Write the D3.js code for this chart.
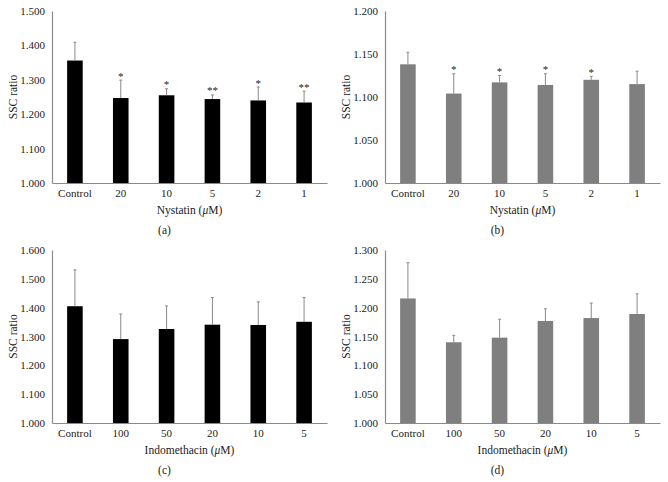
<!DOCTYPE html>
<html>
<head>
<meta charset="utf-8">
<script src="https://cdn.jsdelivr.net/npm/d3@7"></script>
<style>
  html, body { margin: 0; padding: 0; background: #fff; }
  svg { display: block; }
  text { font-family: "Liberation Serif", "Times New Roman", serif; fill: #222; }
</style>
</head>
<body>
<svg id="chart" width="668" height="482"></svg>
<script>
// ---------- data ----------
const nystatinCategories = ["Control", "20", "10", "5", "2", "1"];
const indomethacinCategories = ["Control", "100", "50", "20", "10", "5"];

const panelAMeans = [1.356, 1.247, 1.255, 1.244, 1.240, 1.234];
const panelAErrors = [0.053, 0.052, 0.019, 0.012, 0.039, 0.033];
const panelASig = ["", "*", "*", "**", "*", "**"];
const panelATicks = [1.0, 1.1, 1.2, 1.3, 1.4, 1.5];

const panelBMeans = [1.138, 1.104, 1.117, 1.114, 1.120, 1.115];
const panelBErrors = [0.014, 0.023, 0.008, 0.013, 0.004, 0.015];
const panelBSig = ["", "*", "*", "*", "*", ""];
const panelBTicks = [1.0, 1.05, 1.1, 1.15, 1.2];

const panelCMeans = [1.405, 1.291, 1.326, 1.341, 1.340, 1.351];
const panelCErrors = [0.126, 0.087, 0.080, 0.094, 0.080, 0.084];
const panelCSig = ["", "", "", "", "", ""];
const panelCTicks = [1.0, 1.1, 1.2, 1.3, 1.4, 1.5, 1.6];

const panelDMeans = [1.216, 1.140, 1.148, 1.177, 1.182, 1.189];
const panelDErrors = [0.062, 0.012, 0.032, 0.021, 0.026, 0.035];
const panelDSig = ["", "", "", "", "", ""];
const panelDTicks = [1.0, 1.05, 1.1, 1.15, 1.2, 1.25, 1.3];

const panels = [
  { cats: nystatinCategories, means: panelAMeans, errs: panelAErrors, sig: panelASig, ticks: panelATicks,
    xTitle: "Nystatin", caption: "(a)", color: "#000000", x0: 52, x1: 327, yTop: 11, yBot: 183 },
  { cats: nystatinCategories, means: panelBMeans, errs: panelBErrors, sig: panelBSig, ticks: panelBTicks,
    xTitle: "Nystatin", caption: "(b)", color: "#7f7f7f", x0: 385, x1: 660, yTop: 11, yBot: 183 },
  { cats: indomethacinCategories, means: panelCMeans, errs: panelCErrors, sig: panelCSig, ticks: panelCTicks,
    xTitle: "Indomethacin", caption: "(c)", color: "#000000", x0: 52, x1: 327, yTop: 250, yBot: 423 },
  { cats: indomethacinCategories, means: panelDMeans, errs: panelDErrors, sig: panelDSig, ticks: panelDTicks,
    xTitle: "Indomethacin", caption: "(d)", color: "#7f7f7f", x0: 385, x1: 660, yTop: 250, yBot: 423 }
];

const svg = d3.select("#chart");
const axisColor = "#8a8a8a";
const errColor = "#8a8a8a";

panels.forEach(p => {
  const g = svg.append("g");
  const x = d3.scaleBand().domain(p.cats).range([p.x0, p.x1]).paddingInner(0.66).paddingOuter(0.33);
  const y = d3.scaleLinear().domain([p.ticks[0], p.ticks[p.ticks.length - 1]]).range([p.yBot, p.yTop]);
  const data = p.cats.map((c, i) => ({ c, m: p.means[i], e: p.errs[i], s: p.sig[i] }));

  // bars
  g.selectAll("rect.bar").data(data).enter().append("rect")
    .attr("x", d => x(d.c))
    .attr("width", x.bandwidth())
    .attr("y", d => y(d.m))
    .attr("height", d => y(p.ticks[0]) - y(d.m))
    .attr("fill", p.color);

  // error bars (upper only)
  const cx = d => x(d.c) + x.bandwidth() / 2;
  g.selectAll("line.err").data(data).enter().append("line")
    .attr("x1", cx).attr("x2", cx)
    .attr("y1", d => y(d.m)).attr("y2", d => y(d.m + d.e))
    .attr("stroke", errColor).attr("stroke-width", 1);
  g.selectAll("line.cap").data(data).enter().append("line")
    .attr("x1", d => cx(d) - 1.5).attr("x2", d => cx(d) + 1.5)
    .attr("y1", d => y(d.m + d.e)).attr("y2", d => y(d.m + d.e))
    .attr("stroke", errColor).attr("stroke-width", 1);

  // significance stars
  g.selectAll("text.sig").data(data.filter(d => d.s)).enter().append("text")
    .attr("x", cx)
    .attr("y", d => y(d.m + d.e) - 0.5)
    .attr("text-anchor", "middle")
    .attr("font-size", 11)
    .style("fill", "#222")
    .text(d => d.s);

  // y axis
  const ya = g.append("g")
    .attr("transform", `translate(${p.x0},0)`)
    .call(d3.axisLeft(y).tickValues(p.ticks).tickFormat(d3.format(".3f")).tickSize(0).tickPadding(7));
  ya.select(".domain").attr("stroke", axisColor).attr("stroke-width", 1.2);
  ya.selectAll("text").attr("font-size", 11).style("font-family", "Liberation Serif, serif").style("fill", "#222");

  // x axis
  const xa = g.append("g")
    .attr("transform", `translate(0,${p.yBot})`)
    .call(d3.axisBottom(x).tickSize(0).tickPadding(6));
  xa.select(".domain").attr("stroke", axisColor).attr("stroke-width", 1.2);
  xa.selectAll("text").attr("font-size", 11).style("font-family", "Liberation Serif, serif").style("fill", "#222");

  // x title
  const xt = g.append("text")
    .attr("x", (p.x0 + p.x1) / 2)
    .attr("y", p.yBot + 31)
    .attr("text-anchor", "middle")
    .attr("font-size", 11.5);
  xt.append("tspan").text(p.xTitle + " (");
  xt.append("tspan").attr("font-style", "italic").text("\u03BC");
  xt.append("tspan").text("M)");

  // y title
  g.append("text")
    .attr("transform", `translate(${p.x0 - 39},${(p.yTop + p.yBot) / 2}) rotate(-90)`)
    .attr("dy", "0.35em")
    .attr("text-anchor", "middle")
    .attr("font-size", 11.5)
    .text("SSC ratio");

  // caption
  g.append("text")
    .attr("x", (p.x0 + p.x1) / 2 - 25)
    .attr("y", p.yBot + 51)
    .attr("text-anchor", "middle")
    .attr("font-size", 11.5)
    .text(p.caption);
});
</script>
</body>
</html>
